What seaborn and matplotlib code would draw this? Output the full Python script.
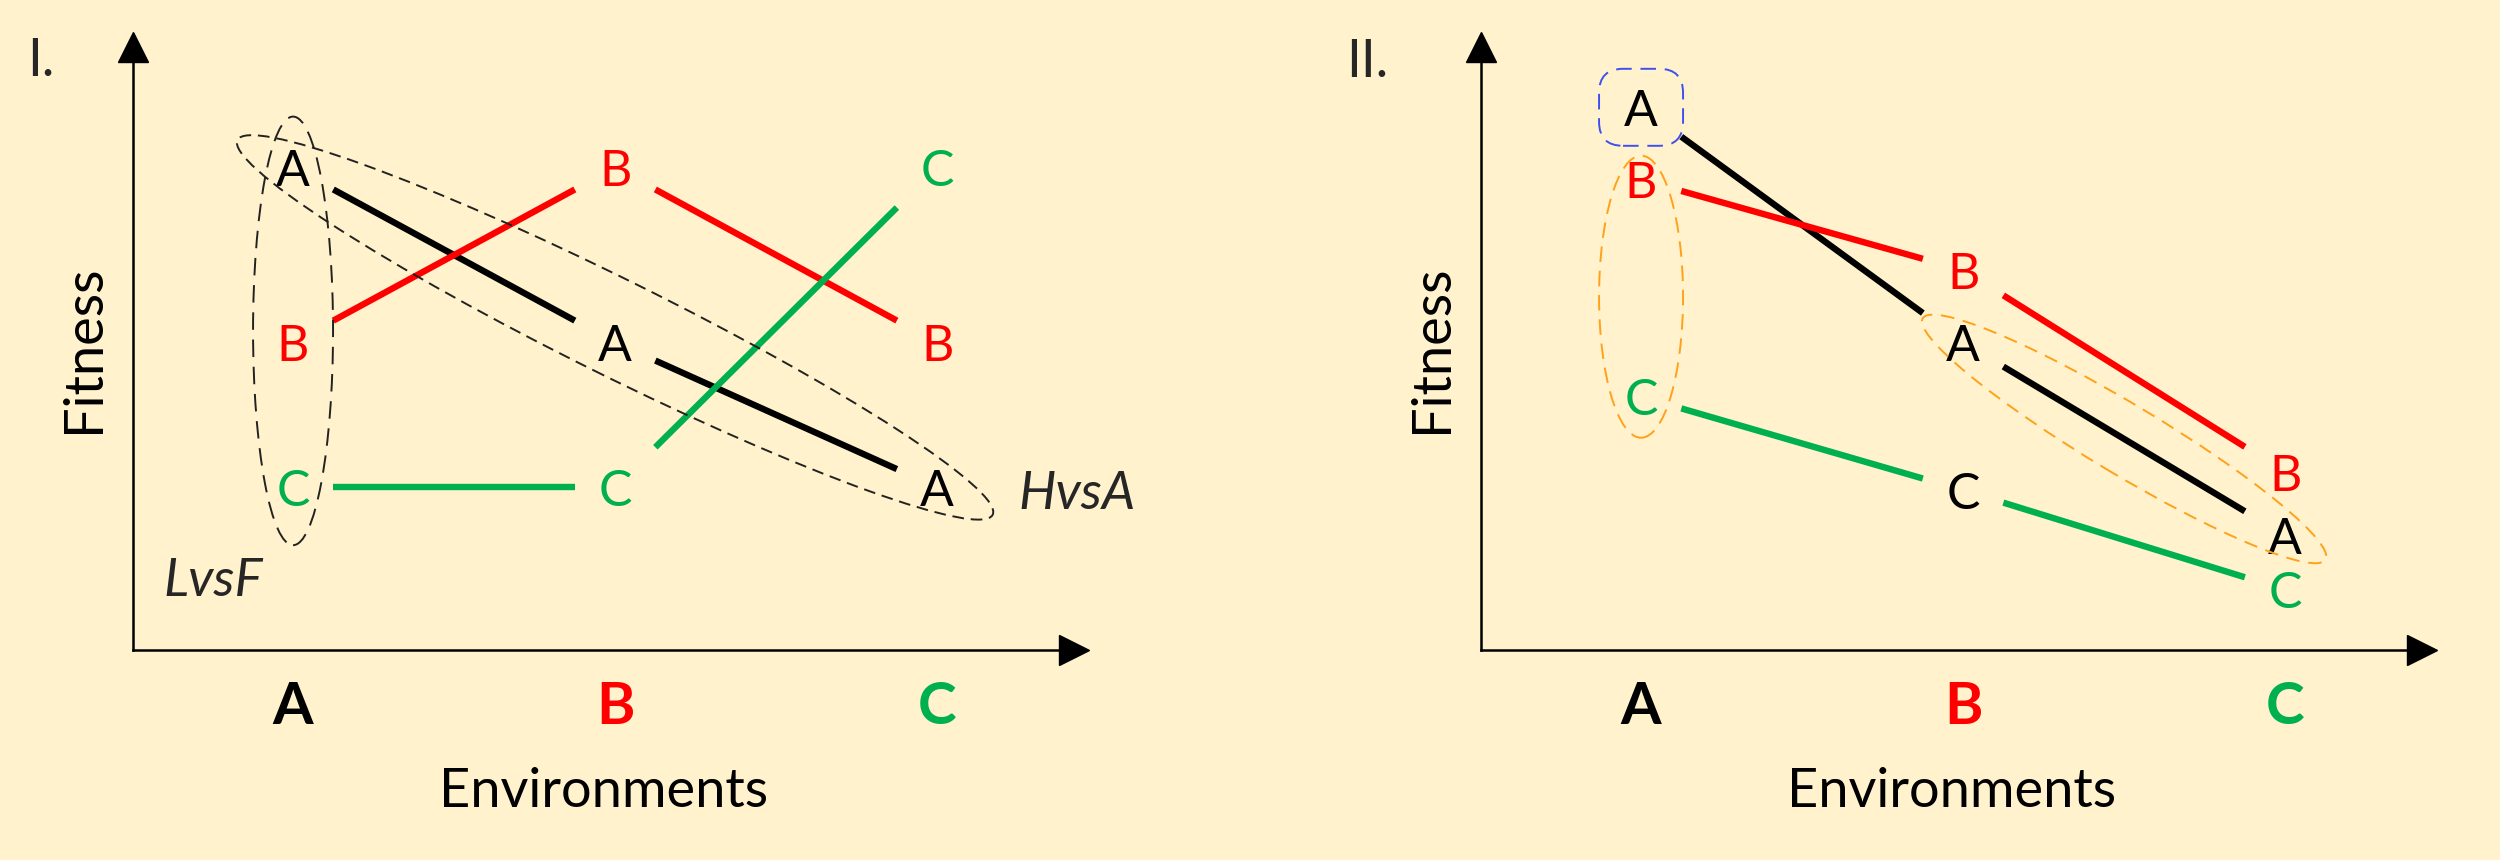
import matplotlib

matplotlib.use("Agg")
import math

import matplotlib.pyplot as plt
import numpy as np
import pandas as pd
import seaborn as sns
from matplotlib.patches import Ellipse, FancyBboxPatch

# ---- data -------------------------------------------------------------
environments = ["A", "B", "C"]
genotypes = ["A", "B", "C"]
colors = {"A": "black", "B": "#FF0000", "C": "#00B050"}

# panel I: crossing reaction norms (fitness in arbitrary units, per environment A, B, C)
crossing_A = [8.0, 5.1, 2.7]
crossing_B = [5.1, 8.0, 5.1]
crossing_C = [2.7, 2.7, 8.0]

# panel II: parallel, ranked reaction norms
ranked_A = [9.0, 5.1, 1.9]
ranked_B = [7.8, 6.3, 2.95]
ranked_C = [4.2, 2.65, 1.0]
ranked_label_colors_C = ["#00B050", "black", "#00B050"]

BG = "#FFF2CC"
W, H = 2500, 860
GAP = 0.125  # fraction of a segment left blank next to each letter

sns.set_theme(style="white")
plt.rcParams["font.family"] = ["Lato", "DejaVu Sans"]

fig = plt.figure(figsize=(W / 100, H / 100), dpi=100)
fig.patch.set_facecolor(BG)


def px_axes(left, top, right, bottom):
    return fig.add_axes([left / W, 1 - bottom / H, (right - left) / W, (bottom - top) / H])


def segment_frame(series):
    rows = []
    for g, vals in series.items():
        for i in range(len(vals) - 1):
            for t in (GAP, 1 - GAP):
                rows.append({"env": i + t, "fitness": vals[i] + t * (vals[i + 1] - vals[i]),
                             "genotype": g, "seg": f"{g}{i}"})
    return pd.DataFrame(rows)


def setup_axes(ax):
    ax.set_facecolor("none")
    ax.set_xlim(-0.497, 2.425)
    ax.set_ylim(0, 10)
    sns.despine(ax=ax)
    for side in ("left", "bottom"):
        ax.spines[side].set_color("black")
        ax.spines[side].set_linewidth(1.8)
    ax.plot(1, 0, ">", color="black", ms=22, transform=ax.transAxes, clip_on=False)
    ax.plot(0, 1, "^", color="black", ms=22, transform=ax.transAxes, clip_on=False)
    ax.set_xticks(range(len(environments)))
    ax.set_xticklabels(environments, fontsize=42, fontweight="bold")
    for lbl, e in zip(ax.get_xticklabels(), environments):
        lbl.set_color(colors[e])
    ax.set_yticks([])
    ax.tick_params(axis="x", length=0, pad=22)
    ax.set_xlabel("Environments", fontsize=39, labelpad=24, color="black")
    ax.set_ylabel("Fitness", fontsize=39, labelpad=18, color="black")


def draw_panel(ax, series, label_colors):
    df = segment_frame(series)
    sns.lineplot(data=df, x="env", y="fitness", hue="genotype", units="seg",
                 estimator=None, sort=False, palette=colors, linewidth=4.6,
                 legend=False, ax=ax, solid_capstyle="butt")
    for g, vals in series.items():
        for i, v in enumerate(vals):
            ax.text(i, v, g, color=label_colors[g][i], fontsize=36,
                    ha="center", va="center_baseline")
    setup_axes(ax)


ax1 = px_axes(133, 47, 1074, 650)
ax2 = px_axes(1481, 47, 2422, 650)

series1 = {"A": crossing_A, "B": crossing_B, "C": crossing_C}
series2 = {"A": ranked_A, "B": ranked_B, "C": ranked_C}
draw_panel(ax1, series1, {g: [colors[g]] * 3 for g in genotypes})
lab2 = {g: [colors[g]] * 3 for g in genotypes}
lab2["C"] = ranked_label_colors_C
draw_panel(ax2, series2, lab2)

ax1.annotate("HvsA", xy=(2, crossing_A[2]), xytext=(140, -2), textcoords="offset pixels",
             fontsize=38, style="italic", ha="center", va="center_baseline")
ax1.annotate("LvsF", xy=(0, crossing_C[0]), xytext=(-80, -89), textcoords="offset pixels",
             fontsize=38, style="italic", ha="center", va="center_baseline")

fig.text(41 / W, 1 - 57 / H, "I.", fontsize=38, ha="center", va="center_baseline")
fig.text(1367 / W, 1 - 58 / H, "II.", fontsize=38, ha="center", va="center_baseline")

# ---- grouping outlines, drawn in pixel space on a transparent overlay ----
deco = fig.add_axes([0, 0, 1, 1])
deco.set_xlim(0, W)
deco.set_ylim(0, H)
deco.axis("off")


def to_px(ax, x, y):
    return deco.transData.inverted().transform(ax.transData.transform((x, y)))


def diag_ellipse(ax, p, q, pad, minor, color, dash):
    a, b = to_px(ax, *p), to_px(ax, *q)
    d = b - a
    deco.add_patch(Ellipse((a + b) / 2, math.hypot(*d) + 2 * pad, minor,
                           angle=math.degrees(math.atan2(d[1], d[0])), fill=False,
                           ec=color, lw=1.4, ls=(0, dash)))


def column_ellipse(ax, x, top_val, bot_val, pad_top, pad_bot, width, color, dash):
    top = to_px(ax, x, top_val)[1] + pad_top
    bot = to_px(ax, x, bot_val)[1] - pad_bot
    cx = to_px(ax, x, top_val)[0]
    deco.add_patch(Ellipse((cx, (top + bot) / 2), width, top - bot, fill=False,
                           ec=color, lw=1.4, ls=(0, dash)))


grey = "#222222"
orange = "#FFA11A"
blue = "#4050F0"

diag_ellipse(ax1, (0, crossing_A[0]), (2, crossing_A[2]), 62, 96, grey, (6, 3.5))
column_ellipse(ax1, 0, crossing_A[0], crossing_C[0], 51, 58, 80, grey, (9, 5))

column_ellipse(ax2, 0, ranked_B[0], ranked_C[0], 24, 41, 84, orange, (8, 4.5))
diag_ellipse(ax2, (1, ranked_A[1]), (2, ranked_A[2]), 47, 70, orange, (7, 4.5))

cx, cy = to_px(ax2, 0, ranked_A[0])
deco.add_patch(FancyBboxPatch((cx - 42, cy - 38.5), 84, 77,
                              boxstyle="round,pad=0,rounding_size=24", fill=False,
                              ec=blue, lw=1.4, ls=(0, (8, 4.5))))

fig.savefig("out.png", dpi=100, facecolor=BG)
